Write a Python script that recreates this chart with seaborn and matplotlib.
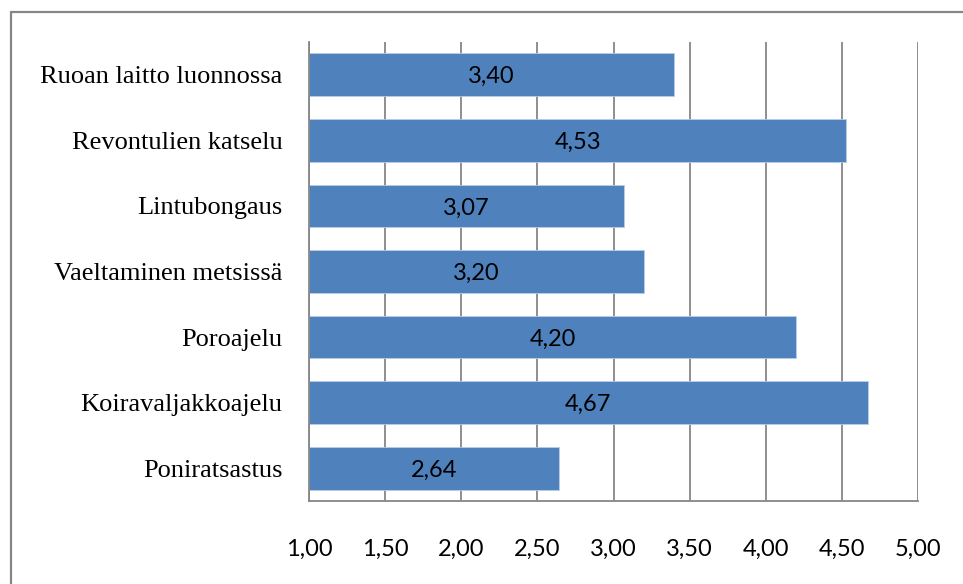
import matplotlib
matplotlib.use("Agg")
import matplotlib.pyplot as plt
import seaborn as sns
import pandas as pd
from matplotlib.lines import Line2D

activities = [
    "Ruoan laitto luonnossa",
    "Revontulien katselu",
    "Lintubongaus",
    "Vaeltaminen metsissä",
    "Poroajelu",
    "Koiravaljakkoajelu",
    "Poniratsastus",
]
scores = [3.40, 4.53, 3.07, 3.20, 4.20, 4.67, 2.64]
x_ticks = [1.0, 1.5, 2.0, 2.5, 3.0, 3.5, 4.0, 4.5, 5.0]
x_min, x_max = 1.0, 5.0

df = pd.DataFrame({"activity": activities, "score": scores})
df["span"] = df["score"] - x_min

sns.set_theme(style="white")
plt.rcParams["font.family"] = ["Lato", "DejaVu Sans"]

W, H = 963, 584
fig = plt.figure(figsize=(W / 100, H / 100), dpi=100)
ax = fig.add_axes([309 / W, 1 - 501 / H, (918 - 309) / W, (501 - 42) / H])

grid_col = "#868686"
for t in x_ticks:
    ax.axvline(t, color=grid_col, lw=1.3, zorder=0)

sns.barplot(data=df, x="span", y="activity", left=x_min, orient="h",
            color="#4F81BD", saturation=1, width=0.65,
            edgecolor="#B9CDE5", linewidth=0.6, ax=ax, zorder=2)

for i, v in enumerate(scores):
    ax.text((x_min + v) / 2, i, f"{v:.2f}".replace(".", ","),
            ha="center", va="center_baseline", fontsize=17, color="black",
            family=["Lato", "DejaVu Sans"], zorder=3)

ax.set_xlim(x_min, x_max)
ax.set_ylim(len(activities) - 0.5, -0.5)
ax.set_xticks(x_ticks)
ax.set_xticklabels([f"{t:.2f}".replace(".", ",") for t in x_ticks],
                   fontsize=17, family=["Lato", "DejaVu Sans"])
ax.set_yticks(range(len(activities)))
ax.set_yticklabels(activities, fontsize=19, family=["Liberation Serif"])
ax.tick_params(axis="x", length=0, pad=27.5, colors="black")
ax.tick_params(axis="y", length=0, pad=19, colors="black")
ax.set_xlabel("")
ax.set_ylabel("")

for side in ["top", "right"]:
    ax.spines[side].set_visible(False)
for side in ["left", "bottom"]:
    ax.spines[side].set_color(grid_col)
    ax.spines[side].set_linewidth(1.3)
    ax.spines[side].set_zorder(4)

# chart frame
fig.add_artist(Line2D([11 / W, 11 / W], [0, 1 - 12 / H], transform=fig.transFigure,
                      color=grid_col, lw=1.6))
fig.add_artist(Line2D([11 / W, 1], [1 - 12 / H, 1 - 12 / H], transform=fig.transFigure,
                      color=grid_col, lw=1.6))

fig.savefig("out.png", dpi=100, facecolor="white")
